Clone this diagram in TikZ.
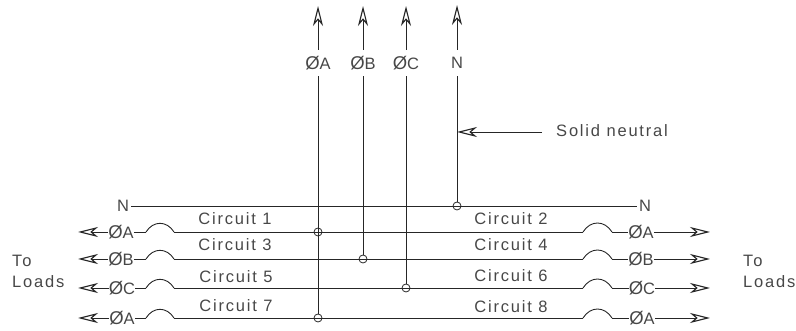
\documentclass[tikz,border=0pt]{standalone}
\usepackage{fontspec}
\setmainfont[LetterSpace=11]{Liberation Sans}
\usetikzlibrary{arrows.meta}
\newcommand{\phs}{{\fontsize{18.5}{18}\selectfont Ø}}
\tikzset{
  x=1pt,y=-1pt,
  wire/.style={line width=0.9pt,black!85},
  arr/.style={wire,-{Stealth[open,length=20pt,width=10pt,inset=6pt,line width=1.1pt]}},
  lab/.style={inner xsep=0pt,inner ysep=0pt,minimum height=26pt,font=\fontsize{16.5}{18}\selectfont,text=black!72},
  txt/.style={inner sep=0pt,font=\fontsize{16.5}{18}\selectfont,text=black!72},
  jun/.style={circle,draw=black!85,line width=0.8pt,fill=none,minimum size=8pt,inner sep=0pt},
  fuse/.style={wire,out=58,in=122,looseness=1.25}
}
\begin{document}
\begin{tikzpicture}
\useasboundingbox (0,0) rectangle (796,331);
% top labels
\node[lab] (tA) at (318,63) {\phs A};
\node[lab] (tB) at (363,63) {\phs B};
\node[lab] (tC) at (406,63) {\phs C};
\node[lab] (tN) at (457,63) {N};
\coordinate (pA) at (318,6);
\coordinate (pB) at (363,6);
\coordinate (pC) at (406,6);
\coordinate (pN) at (457,5);
\foreach \n in {A,B,C,N} \draw[arr] (t\n) -- (p\n);
% junctions
\node[jun] (jN) at (457,206) {};
\node[jun] (j1) at (318,232) {};
\node[jun] (j3) at (363,259) {};
\node[jun] (j5) at (406,288) {};
\node[jun] (j7) at (318,318) {};
% neutral bus
\node[lab,inner xsep=2pt] (nL) at (123,206) {N};
\node[lab,inner xsep=2pt] (nR) at (645,206) {N};
\draw[wire] (nL) -- (nR);
\draw[wire] (tN) -- (jN);
% verticals
\draw[wire] (tA) -- (j7);
\draw[wire] (tB) -- (j3);
\draw[wire] (tC) -- (j5);
% solid neutral
\node[txt,anchor=west] (sn) at (556,131) {Solid neutral};
\coordinate (sp) at (457,132);
\coordinate (ss) at (542,132);
\draw[arr] (ss) -- (sp);
% branch circuits
\foreach \r/\y/\p/\lx/\rx in {1/232/A/121/641,2/259/B/121/641,3/288/C/122/642,4/318/A/122/642}{
  \node[lab] (L\r) at (\lx,\y) {\phs \p};
  \node[lab] (R\r) at (\rx,\y) {\phs \p};
  \coordinate (aL\r) at (78,\y);
  \coordinate (aR\r) at (710,\y);
  \coordinate (fa\r) at (146,\y);
  \coordinate (fb\r) at (174,\y);
  \coordinate (fc\r) at (583,\y);
  \coordinate (fd\r) at (612,\y);
  \draw[arr] (L\r) -- (aL\r);
  \draw[arr] (R\r) -- (aR\r);
  \draw[wire] (L\r) -- (fa\r);
  \draw[fuse] (fa\r) to (fb\r);
  \draw[wire] (fb\r) -- (fc\r);
  \draw[fuse] (fc\r) to (fd\r);
  \draw[wire] (fd\r) -- (R\r);
}
% circuit labels
\node[txt] (c1) at (235,219) {Circuit 1};
\node[txt] (c3) at (235,245) {Circuit 3};
\node[txt] (c5) at (236,277) {Circuit 5};
\node[txt] (c7) at (236,306) {Circuit 7};
\node[txt] (c2) at (511,219) {Circuit 2};
\node[txt] (c4) at (511,245) {Circuit 4};
\node[txt] (c6) at (511,276) {Circuit 6};
\node[txt] (c8) at (511,307) {Circuit 8};
% to loads
\node[txt,anchor=west] (tl1) at (12,261) {To};
\node[txt,anchor=west] (tl2) at (12,282) {Loads};
\node[txt,anchor=west] (tr1) at (743,261) {To};
\node[txt,anchor=west] (tr2) at (743,282) {Loads};
\end{tikzpicture}
\end{document}
